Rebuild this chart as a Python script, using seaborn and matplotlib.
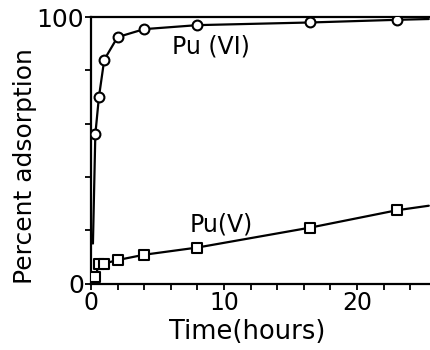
import matplotlib
matplotlib.use("Agg")
import matplotlib.pyplot as plt
import seaborn as sns
import pandas as pd
import numpy as np

# Data
time_h = [0.33, 0.6, 1.0, 2.0, 4.0, 8.0, 16.5, 23.0]
pu6_pct = [56, 70, 84, 92.5, 95.5, 97, 98, 99]
pu5_pct = [2.5, 7.2, 7.5, 8.8, 10.8, 13.5, 21, 27.5]

# Drawn curve vertices (hand-drawn lines in the original)
pu6_curve_x = [0.15, 0.33, 0.6, 1.0, 2.0, 4.0, 8.0, 16.5, 23.0, 25.4]
pu6_curve_y = [15, 56, 70, 84, 92.5, 95.5, 97, 98, 99, 99.3]
pu5_curve_x = [0.33, 0.6, 1.0, 2.0, 4.0, 8.0, 16.5, 23.0, 25.4]
pu5_curve_y = [2.5, 7.2, 7.5, 8.8, 10.8, 13.5, 21, 27.5, 29.2]

x_ticks = list(range(0, 26, 2))
x_ticklabels = ["0" if t == 0 else ("10" if t == 10 else ("20" if t == 20 else "")) for t in x_ticks]
y_ticks = [0, 20, 40, 60, 80, 100]
y_ticklabels = ["0", "", "", "", "", "100"]

sns.set_style("ticks")
plt.rcParams['font.family'] = ['DejaVu Sans']
plt.rcParams.update({"text.color": "black", "axes.labelcolor": "black",
                     "xtick.color": "black", "ytick.color": "black"})

fig = plt.figure(figsize=(4.31, 3.5), dpi=100)
ax = fig.add_axes([0.211, 0.19, 0.787, 0.761])

lw = 1.6
sns.lineplot(x=pu6_curve_x, y=pu6_curve_y, ax=ax, color="black", lw=lw, sort=False, zorder=2)
sns.lineplot(x=pu5_curve_x, y=pu5_curve_y, ax=ax, color="black", lw=lw, sort=False, zorder=2)
sns.scatterplot(x=time_h, y=pu6_pct, ax=ax, marker="o", s=50, facecolor="white",
                edgecolor="black", linewidth=1.5, zorder=3)
sns.scatterplot(x=time_h, y=pu5_pct, ax=ax, marker="s", s=44, facecolor="white",
                edgecolor="black", linewidth=1.5, zorder=3)

ax.set_xlim(0, 25.5)
ax.set_ylim(0, 100)
ax.set_xticks(x_ticks)
ax.set_xticklabels(x_ticklabels)
ax.set_yticks(y_ticks)
ax.set_yticklabels(y_ticklabels)
ax.tick_params(axis="both", direction="out", length=4, width=1.3, labelsize=18, pad=1)
ax.tick_params(axis="x", pad=1.5, labelsize=17)

for side in ["left", "bottom", "top"]:
    ax.spines[side].set_linewidth(1.6)
    ax.spines[side].set_color("black")
ax.spines["right"].set_visible(False)

ax.set_xlabel("Time(hours)", fontsize=18.5)
ax.xaxis.set_label_coords(0.46, -0.132)
ax.set_ylabel("Percent adsorption", fontsize=18)
ax.yaxis.set_label_coords(-0.16, 0.44)

ax.text(9.0, 88.8, "Pu (VI)", fontsize=17, ha="center", va="center")
ax.text(9.8, 22, "Pu(V)", fontsize=17, ha="center", va="center")

fig.savefig("out.png", dpi=100)
